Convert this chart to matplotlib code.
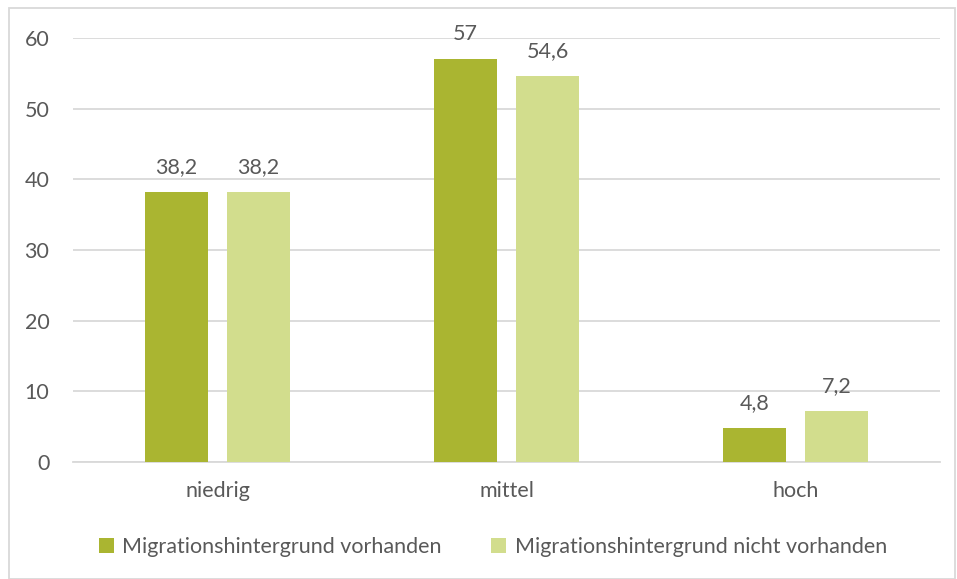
import matplotlib
matplotlib.use("Agg")
import matplotlib.pyplot as plt
from matplotlib.patches import Rectangle
import numpy as np

categories = ["niedrig", "mittel", "hoch"]
series_names = ["Migrationshintergrund vorhanden", "Migrationshintergrund nicht vorhanden"]
values_mit = [38.2, 57.0, 4.8]
values_ohne = [38.2, 54.6, 7.2]
yticks = [0, 10, 20, 30, 40, 50, 60]

colors = ["#AAB531", "#D2DD8D"]
text_color = "#595959"
grid_color = "#D9D9D9"

plt.rcParams['font.family'] = ['Lato', 'DejaVu Sans']
FS = 15.5

fig = plt.figure(figsize=(9.57, 5.79), dpi=100)
ax = fig.add_axes([73/957, 1-462/579, 867/957, 424/579])

x = np.arange(len(categories))
w = 0.221
off = 0.142

def fmt(v):
    s = ("%.1f" % v).rstrip('0').rstrip('.')
    return s.replace('.', ',')

for vals, c, o, name in [(values_mit, colors[0], -off, series_names[0]),
                         (values_ohne, colors[1], off, series_names[1])]:
    bars = ax.bar(x + o, vals, width=w, color=c, label=name, zorder=3)
    for b, v in zip(bars, vals):
        ax.annotate(fmt(v), (b.get_x() + b.get_width()/2, v), xytext=(0, 25),
                    textcoords='offset pixels', ha='center', va='center',
                    fontsize=FS, color=text_color, zorder=4)

ax.set_xlim(-0.5, 2.5)
ax.set_ylim(0, 60)
ax.set_yticks(yticks)
ax.set_yticklabels([str(t) for t in yticks], fontsize=FS, color=text_color)
ax.set_xticks(x)
ax.set_xticklabels(categories, fontsize=FS, color=text_color)
ax.tick_params(axis='both', length=0)
ax.tick_params(axis='y', pad=17)
ax.tick_params(axis='x', pad=14)
ax.yaxis.grid(True, color=grid_color, linewidth=1.3, zorder=0)
ax.set_axisbelow(True)
for s in ['top', 'right', 'left']:
    ax.spines[s].set_visible(False)
ax.spines['bottom'].set_color(grid_color)
ax.spines['bottom'].set_linewidth(1.3)

leg = fig.legend(loc='center', bbox_to_anchor=(0.515, 1-547/579), ncol=2, frameon=False,
                 fontsize=FS, handlelength=0.7, handleheight=0.7, handletextpad=0.4,
                 columnspacing=2.3)
for t in leg.get_texts():
    t.set_color(text_color)

fig.patches.append(Rectangle((9/957, 0), 946/957, 1-8/579, transform=fig.transFigure,
                             fill=False, edgecolor=grid_color, linewidth=1.3))

fig.savefig("out.png", dpi=100)
